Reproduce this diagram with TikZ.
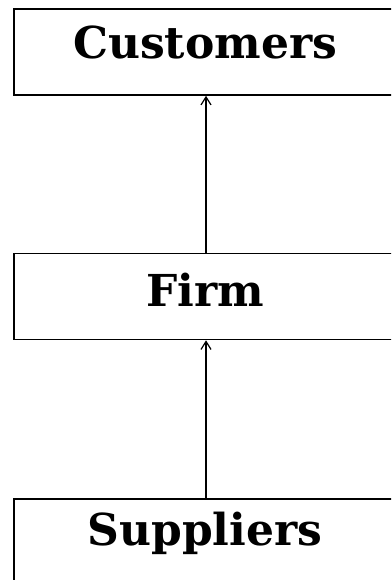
\documentclass[tikz,border=0pt]{standalone}
\usepackage{fontspec}
\newfontfamily\boxfont{DejaVu Serif}
\usetikzlibrary{arrows.meta}
\tikzset{
  boxnode/.style={draw=black, line width=1.6pt, minimum width=384pt, minimum height=86pt, inner sep=0pt},
  lbl/.style={font=\boxfont\bfseries\fontsize{44}{48}\selectfont, inner sep=0pt, anchor=base},
  flow/.style={line width=1.2pt, -{Straight Barb[length=8pt,width=10pt,line width=1.2pt]}}
}
\begin{document}
\begin{tikzpicture}[x=1pt,y=-1pt]
\useasboundingbox (0,0) rectangle (391,580);
\begin{scope}
\clip (0,0) rectangle (391,580);
\node[boxnode] (cust) at (206,52) {};
\node[boxnode] (firm) at (206,296.5) {};
\node[boxnode] (supp) at (206,542) {};
\node[lbl] (custt) at (205,59) {Customers};
\node[lbl] (firmt) at (205,306) {Firm};
\node[lbl] (suppt) at (205,545) {Suppliers};
\draw[flow] (firm.north) -- (cust.south);
\draw[flow] (supp.north) -- (firm.south);
\end{scope}
\end{tikzpicture}
\end{document}
